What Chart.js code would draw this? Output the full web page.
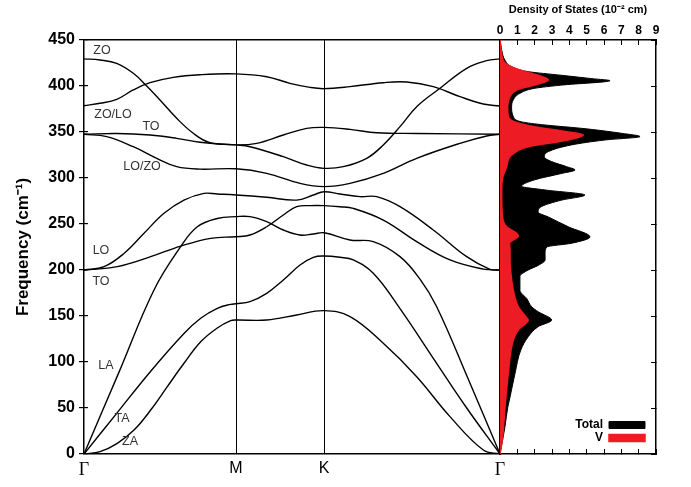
<!DOCTYPE html>
<html>
<head>
<meta charset="utf-8">
<title>Phonon dispersion and DOS</title>
<script src="https://cdn.jsdelivr.net/npm/chart.js@4.4.1/dist/chart.umd.min.js"></script>
<style>
  body { margin: 0; background: #fff; }
  #wrap { position: relative; width: 691px; height: 487px; }
  #wrap canvas { position: absolute; left: 0; top: 0; }
</style>
</head>
<body>
<div id="wrap">
  <canvas id="bands" width="691" height="487"></canvas>
  <canvas id="dos" width="691" height="487"></canvas>
</div>
<script>
// high-symmetry points along the path (distance along path)
const kPoints = [0, 152, 240, 416];
const kLabels = ['Γ', 'M', 'K', 'Γ'];

// phonon branches: [k, frequency in cm-1]
const bandZO = [[0,429.5],[16,428.3],[32.7,424.6],[49.3,413.8],[62.7,400],[76,384.8],[92.7,364.9],[109.3,348.6],[126,338.4],[152,336],[166,334],[199.3,323.2],[222.7,314.1],[240,310.5],[259.3,312.3],[282.7,321.4],[299.3,335.9],[316,355.8],[332.7,377.5],[356,397.5],[382.7,419.2],[402.7,427.5],[416,429.5]];
const bandZOLO = [[0,378.5],[16,381.2],[32.7,385.5],[49.3,395.7],[66,403.6],[89.3,409.4],[116,412.3],[152,413.2],[182.7,410.1],[206,402.9],[226,398.5],[240,397.1],[266,399.3],[299.3,403.6],[322.7,404.3],[349.3,399.3],[376,388.4],[399.3,380.4],[416,378.3]];
const bandTO2 = [[0,347.5],[33,348.4],[66,346.7],[92.7,343.1],[116,338.8],[152,336],[172.7,337.7],[199.3,346.7],[222.7,353.9],[240,355],[266,352.9],[292.7,349.2],[332.7,348.4],[416,347.5]];
const bandLOZO = [[0,347.5],[22.7,345],[49.3,334],[72.7,321.4],[92.7,312.3],[116,309.6],[152,310],[182.7,305.1],[216,294.2],[240,290.6],[266,294.2],[299.3,305.1],[332.7,321.4],[376,337.7],[402.7,345.7],[416,347.5]];
const bandLO = [[0,200],[20,203.6],[40,218],[60,239.9],[80,261.6],[100,276],[120,283.3],[133.3,282.6],[152,281.5],[182.7,279],[212.7,276],[229.3,281.5],[240,285.1],[256,282.6],[276,279.7],[292.7,279.7],[316,268.8],[349.3,243.5],[382.7,214.5],[406,200.7],[416,200]];
const bandTO = [[0,200],[33.3,203.6],[66.7,214.5],[96.7,226],[126.7,234.4],[152,236.2],[166,238],[182.7,247],[199.3,259.8],[212.7,268.8],[226,270],[240,270],[256,268.8],[269.3,267],[299.3,254.3],[332.7,230.8],[366,210.9],[399.3,201],[416,200]];
const bandLA = [[0,0],[35,89],[70,178.3],[96.7,225.4],[113.3,247],[133.3,256],[152,258],[166,258],[182.7,252.5],[199.3,243.5],[216,238],[229.3,239.1],[240,240.5],[266,232.6],[289.3,230.8],[316,214.5],[336,190],[352.7,160],[384,82],[416,0]];
const bandTA = [[0,0],[33.3,45],[66.7,90],[100,131],[116.7,147.5],[133.3,158.3],[146.7,162.7],[152,163.3],[166,165.6],[182.7,174.6],[199.3,189.1],[216,205.4],[229.3,213.8],[240,215.2],[256,213.8],[269.3,210.9],[289.3,196.4],[316,158],[349.3,104],[382.7,50],[416,0]];
const bandZA = [[0,0],[16,2.5],[33.3,11.6],[50,26],[66.7,47.8],[83.3,73.2],[100,98.6],[116.7,122],[133.3,137],[146.7,144.9],[152,145.6],[182.7,145.6],[212.7,151.1],[240,155.8],[266,149.3],[299.3,120.3],[332.7,84],[366,40.6],[399.3,4.3],[416,0]];
const bands = [bandZO, bandZOLO, bandTO2, bandLOZO, bandLO, bandTO, bandLA, bandTA, bandZA];

// density of states: [frequency, DOS in 10^-2 cm]
const dosTotal = [[0,0],[15,0.15],[30,0.29],[51,0.45],[62,0.58],[88,0.87],[113,1.2],[127.5,1.63],[138.4,2.2],[145.6,2.98],[154.7,2.2],[160,1.83],[169,1.54],[178,1.15],[193,1.15],[200,1.63],[205,2.2],[211,2.6],[218,2.6],[225,2.7],[229,4.1],[236,5.19],[247,3.94],[257.6,2.79],[263,2.2],[269,2.4],[276,3.56],[281.5,4.9],[287,2.6],[291,1.25],[298,2.0],[305,3.56],[308.7,4.33],[312.3,3.85],[317.8,2.98],[323,2.56],[328.7,2.79],[336,4.13],[341.3,6.05],[345,8.08],[348.6,7.0],[354,4.7],[357.6,2.6],[361,1.25],[366.8,0.77],[377.5,0.67],[385,0.77],[392,1.15],[397.5,2.0],[401,3.56],[405.8,6.35],[408,5.3],[411.6,3.56],[415.6,1.63],[421,0.67],[428,0.29],[439,0.1],[450,0]];
const dosV = [[0,0],[15,0.13],[51,0.29],[88,0.48],[124,0.77],[135,1.06],[145.6,1.63],[149,1.5],[160,1.06],[178,0.77],[196,0.63],[210,0.58],[222,0.58],[229,0.55],[237,1.06],[242,0.8],[247,0.38],[261,0.13],[283,0.1],[298,0.13],[312,0.38],[325,0.67],[334,1.63],[341.3,3.94],[346.7,4.81],[350,3.94],[355.8,2.0],[361,0.87],[366.8,0.48],[377.5,0.44],[388.4,0.58],[395.7,0.96],[401,2.0],[406.5,2.79],[411.6,2.2],[418,1.06],[425,0.29],[435,0.1],[450,0]];

const SANS = '"Liberation Sans", Arial, sans-serif';
const SERIF = '"Liberation Serif", "Times New Roman", serif';

// draws the mode names next to the branches
const modeLabels = {
  id: 'modeLabels',
  afterDatasetsDraw(chart, args, opts) {
    const {ctx, scales: {x, y}} = chart;
    ctx.save();
    ctx.font = opts.font;
    ctx.fillStyle = opts.color;
    ctx.textAlign = 'center';
    ctx.textBaseline = 'middle';
    opts.items.forEach(it => ctx.fillText(it.text, x.getPixelForValue(it.k), y.getPixelForValue(it.f)));
    ctx.restore();
  }
};

// puts the legend in the lower right corner of the plot
const legendCorner = {
  id: 'legendCorner',
  afterLayout(chart) {
    const lg = chart.legend, ca = chart.chartArea;
    if (!lg) return;
    lg.right = ca.right - 10;
    lg.left = lg.right - lg.width;
    lg.top = ca.bottom - 36;
    lg.bottom = lg.top + 30;
  }
};

new Chart(document.getElementById('bands'), {
  type: 'scatter',
  data: {
    datasets: bands.map(b => ({
      data: b.map(p => ({x: p[0], y: p[1]})),
      showLine: true,
      borderColor: '#000',
      borderWidth: 1.4,
      pointRadius: 0,
      tension: 0.4
    }))
  },
  options: {
    responsive: false,
    animation: false,
    layout: { padding: { left: 0, right: 191, top: 40, bottom: 0 } },
    plugins: {
      legend: { display: false },
      tooltip: { enabled: false },
      modeLabels: {
        font: '12.5px ' + SANS,
        color: '#333',
        items: [
          {text: 'ZO', k: 18, f: 439},
          {text: 'ZO/LO', k: 29, f: 369.5},
          {text: 'TO', k: 67, f: 355.5},
          {text: 'LO/ZO', k: 58, f: 312},
          {text: 'LO', k: 17, f: 221.5},
          {text: 'TO', k: 17, f: 187},
          {text: 'LA', k: 22, f: 96.5},
          {text: 'TA', k: 38, f: 39},
          {text: 'ZA', k: 46, f: 14}
        ]
      }
    },
    scales: {
      x: {
        type: 'linear',
        min: 0, max: 416,
        afterBuildTicks: s => { s.ticks = kPoints.map(v => ({value: v})); },
        afterFit: s => { s.height = 33; },
        ticks: {
          color: '#000',
          padding: 5,
          autoSkip: false,
          maxRotation: 0,
          callback: (v, i) => kLabels[i],
          font: ctx => (kLabels[ctx.index] === 'Γ')
            ? {family: SERIF, size: 18}
            : {family: SANS, size: 16}
        },
        grid: {
          drawTicks: false,
          lineWidth: 1,
          color: ctx => (ctx.tick && (ctx.tick.value === kPoints[1] || ctx.tick.value === kPoints[2])) ? '#000' : 'rgba(0,0,0,0)'
        },
        border: { color: '#000', width: 1.5 }
      },
      xTop: {
        type: 'linear', position: 'top', min: 0, max: 416,
        ticks: { display: false },
        grid: { drawOnChartArea: false, drawTicks: false },
        border: { color: '#000', width: 1.5 },
        afterFit: s => { s.height = 0; }
      },
      y: {
        min: 0, max: 450,
        weight: 1,
        afterFit: s => { s.width = 84; },
        ticks: {
          stepSize: 50,
          color: '#000',
          padding: 4,
          font: {family: SANS, size: 16, weight: 'bold'}
        },
        grid: { drawOnChartArea: false, tickLength: 5, color: '#000', lineWidth: 1.2 },
        border: { color: '#000', width: 1.5 },
        title: {
          display: true,
          text: 'Frequency (cm⁻¹)',
          color: '#000',
          font: {family: SANS, size: 17, weight: 'bold'},
          padding: {top: 13, bottom: 0}
        }
      },
      yInner: {
        position: 'left', min: 0, max: 450,
        weight: 0,
        afterFit: s => { s.width = 0; },
        ticks: { display: false, stepSize: 50 },
        grid: { drawOnChartArea: false, tickLength: -4, color: '#000', lineWidth: 1.2 },
        border: { display: false }
      },
      yRight: {
        position: 'right', min: 0, max: 450,
        ticks: { display: false },
        grid: { drawOnChartArea: false, drawTicks: false },
        border: { color: '#000', width: 1.5 },
        afterFit: s => { s.width = 0; }
      }
    }
  },
  plugins: [modeLabels]
});

new Chart(document.getElementById('dos'), {
  type: 'line',
  data: {
    datasets: [
      {
        label: 'V',
        data: dosV.map(p => ({x: p[1], y: p[0]})),
        borderColor: '#ED1C24',
        backgroundColor: '#ED1C24',
        borderWidth: 1.5,
        pointRadius: 0,
        fill: 'origin',
        cubicInterpolationMode: 'monotone',
        xAxisID: 'x', yAxisID: 'y'
      },
      {
        label: 'Total',
        data: dosTotal.map(p => ({x: p[1], y: p[0]})),
        borderColor: '#000',
        backgroundColor: '#000',
        borderWidth: 1,
        pointRadius: 0,
        fill: 'origin',
        cubicInterpolationMode: 'monotone',
        xAxisID: 'x', yAxisID: 'y'
      }
    ]
  },
  options: {
    responsive: false,
    animation: false,
    indexAxis: 'y',
    layout: { padding: { left: 500, right: 35, top: 0, bottom: 33 } },
    plugins: {
      tooltip: { enabled: false },
      legend: {
        position: 'chartArea',
        align: 'start',
        rtl: true,
        reverse: true,
        labels: {
          boxWidth: 36,
          boxHeight: 7,
          padding: 1,
          color: '#000',
          font: {family: SANS, size: 12, weight: 'bold'}
        }
      }
    },
    scales: {
      x: {
        type: 'linear', position: 'top', min: 0, max: 9,
        afterFit: s => { s.height = 40; },
        ticks: {
          stepSize: 1,
          color: '#000',
          padding: 7,
          font: {family: SANS, size: 12, weight: 'bold'}
        },
        grid: { drawOnChartArea: false, tickLength: -5, color: '#000', lineWidth: 1 },
        border: { color: '#000', width: 1.5 },
        title: {
          display: true,
          text: 'Density of States (10⁻² cm)',
          color: '#000',
          font: {family: SANS, size: 11, weight: 'bold'},
          padding: {top: 3, bottom: 0}
        }
      },
      xBottom: {
        type: 'linear', position: 'bottom', min: 0, max: 9,
        afterFit: s => { s.height = 0; },
        ticks: { display: false, stepSize: 1 },
        grid: { drawOnChartArea: false, tickLength: -5, color: '#000', lineWidth: 1 },
        border: { color: '#000', width: 1.5 }
      },
      y: {
        type: 'linear', min: 0, max: 450,
        afterFit: s => { s.width = 0; },
        ticks: { display: false },
        grid: { drawOnChartArea: false, drawTicks: false },
        border: { color: '#000', width: 1.5 }
      },
      yRight: {
        type: 'linear', position: 'right', min: 0, max: 450,
        afterFit: s => { s.width = 0; },
        ticks: { display: false, stepSize: 50 },
        grid: { drawOnChartArea: false, tickLength: -5, color: '#000', lineWidth: 1 },
        border: { color: '#000', width: 1.5 }
      }
    }
  },
  plugins: [legendCorner]
});
</script>
</body>
</html>
